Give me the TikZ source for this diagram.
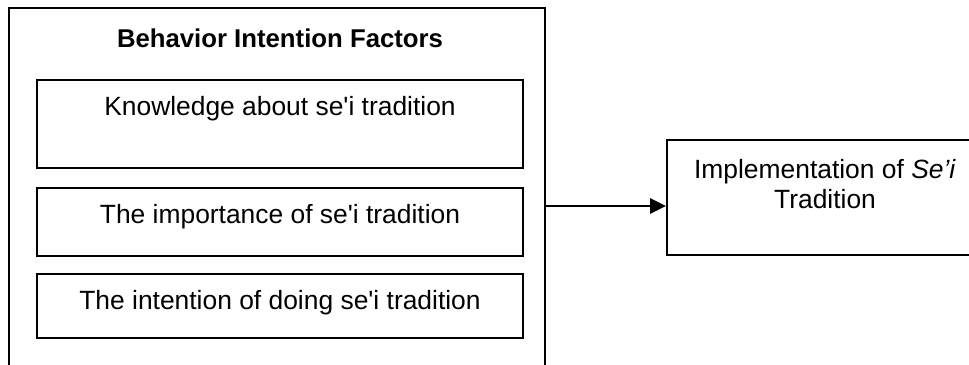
\documentclass[tikz,border=0pt]{standalone}
\usepackage{fontspec}
\setmainfont{Liberation Sans}[Ligatures=TeXOff]
\usetikzlibrary{positioning,arrows.meta}
\tikzset{
  flowarrow/.style={-{Triangle[length=12pt, width=11.5pt]}, line width=1.5pt},
  groupbox/.style={draw, line width=1.5pt, minimum width=402pt, minimum height=279pt},
  factorbox/.style={draw, line width=1.5pt, minimum width=364.5pt},
  outcomebox/.style={draw, line width=1.5pt, minimum width=242.25pt, minimum height=86.25pt},
  boxtext/.style={anchor=base, inner sep=0pt},
  titletext/.style={anchor=base, inner sep=0pt, font=\fontsize{19.3}{22.5}\selectfont\bfseries}
}

\begin{document}
\begin{tikzpicture}[x=0.75pt, y=-0.75pt, every node/.style={font=\fontsize{19.8}{22.5}\selectfont}]
  \clip (0,0) rectangle (969,364);
  \fill[white] (0,0) rectangle (969,364);
  % left group
  \node[groupbox] (group) at (277,194) {};
  \node[titletext] (title) at (280,47) {Behavior Intention Factors};
  \node[factorbox, minimum height=66pt] (know) at (280,124) {};
  \node[factorbox, minimum height=51pt] (imp) at (280,222) {};
  \node[factorbox, minimum height=48pt] (intent) at (280,306) {};
  \node[boxtext] (knowtext) at (280,115) {Knowledge about se'i tradition};
  \node[boxtext] (imptext) at (280,223) {The importance of se'i tradition};
  \node[boxtext] (intenttext) at (280,309) {The intention of doing se'i tradition};
  % outcome
  \node[outcomebox] (impl) at (828.5,197.5) {};
  \node[align=center, inner sep=0pt] (impltext) at (825,184) {Implementation of \textit{Se’i}\\Tradition};
  \coordinate (src) at (group.east |- 0,206);
  \draw[flowarrow] (src) -- (src -| impl.west);
\end{tikzpicture}
\end{document}
